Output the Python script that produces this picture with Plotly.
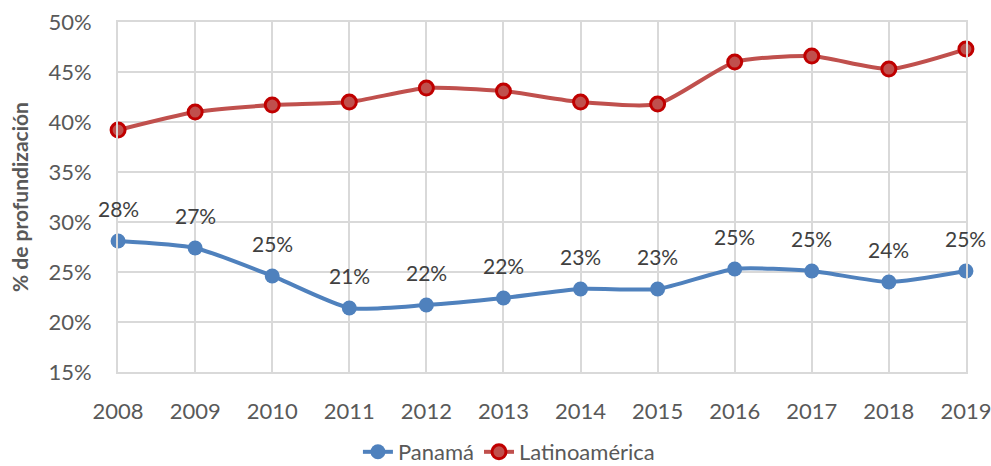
import plotly.graph_objects as go

ANIOS = [2008, 2009, 2010, 2011, 2012, 2013, 2014, 2015, 2016, 2017, 2018, 2019]
PANAMA = [28.1, 27.4, 24.6, 21.4, 21.7, 22.4, 23.3, 23.3, 25.3, 25.1, 24.0, 25.1]
LATAM = [39.2, 41.0, 41.7, 42.0, 43.4, 43.1, 42.0, 41.8, 46.0, 46.6, 45.3, 47.3]
Y_TICKS = [15, 20, 25, 30, 35, 40, 45, 50]

FUENTE = "Lato, 'Open Sans', sans-serif"
GRIS = "#595959"
GRID = "#D9D9D9"

fig = go.Figure()
fig.add_trace(go.Scatter(
    x=ANIOS, y=PANAMA, name="Panamá", mode="lines+markers",
    line=dict(color="#4F81BD", width=4, shape="spline", smoothing=0.6),
    marker=dict(size=15, color="#4F81BD"),
    cliponaxis=False,
))
fig.add_trace(go.Scatter(
    x=ANIOS, y=LATAM, name="Latinoamérica", mode="lines+markers",
    line=dict(color="#C0504D", width=4, shape="spline", smoothing=0.6),
    marker=dict(size=14, color="#C0504D", line=dict(color="#C00000", width=3)),
    cliponaxis=False,
))

# etiquetas de datos de Panamá
for anio, valor in zip(ANIOS, PANAMA):
    fig.add_annotation(
        x=anio, y=valor, text=f"{round(valor):.0f}%", showarrow=False,
        yshift=32, font=dict(family=FUENTE, size=21, color="#404040"),
    )

# titulo del eje y como anotación para poder ubicarlo a mano
fig.add_annotation(
    text="<b>% de profundización</b>", xref="paper", yref="paper",
    x=-0.1167, y=0.5, xanchor="center", yanchor="middle", textangle=-90,
    showarrow=False, font=dict(family=FUENTE, size=21, color=GRIS),
)

fig.update_layout(
    width=991, height=466,
    margin=dict(l=118, r=25, t=22, b=94, autoexpand=False),
    paper_bgcolor="white", plot_bgcolor="white",
    font=dict(family=FUENTE, color=GRIS, size=21),
    showlegend=True,
    legend=dict(orientation="h", x=0.461, xanchor="center",
                yref="container", y=0.03, yanchor="middle",
                font=dict(size=22, color=GRIS)),
)
fig.update_xaxes(
    range=[2007.999, 2019.001], tickvals=ANIOS, ticktext=[str(a) for a in ANIOS],
    showgrid=True, gridcolor=GRID, gridwidth=2, zeroline=False,
    showline=True, mirror=True, linecolor=GRID, linewidth=2,
    ticks="", ticklabelstandoff=19, ticklabeloverflow="allow",
    tickfont=dict(size=22, color=GRIS),
)
fig.update_yaxes(
    range=[14.99, 50.01], tickvals=Y_TICKS, ticktext=[f"{t}%" for t in Y_TICKS],
    showgrid=True, gridcolor=GRID, gridwidth=2, zeroline=False,
    showline=True, mirror=True, linecolor=GRID, linewidth=2,
    ticks="", ticklabelstandoff=20, ticklabeloverflow="allow",
    tickfont=dict(size=22, color=GRIS),
)

# quitar el margen de 8px del body para que la figura ocupe toda la ventana
fig.write_html("out.html", config={"displayModeBar": False},
               post_script="document.body.style.margin = '0';")
